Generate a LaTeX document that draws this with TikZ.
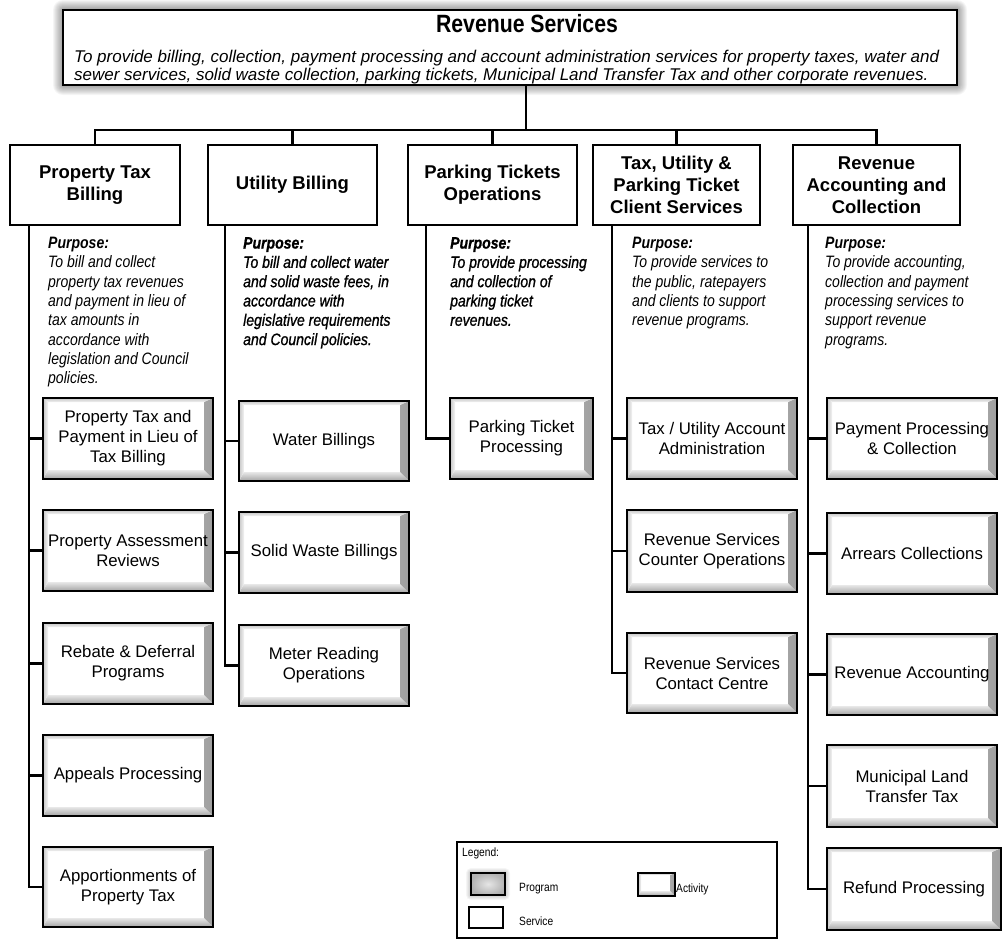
\documentclass[tikz,border=0pt]{standalone}
\usepackage{fontspec}
\setmainfont{Liberation Sans}
\newfontfamily\narrowfont{Liberation Sans}[FakeStretch=0.85]
\newfontfamily\narrowheavy{Liberation Sans}[FakeStretch=0.85,FakeBold=1]
\usetikzlibrary{calc}
\newcommand\drawbevel[3]{%
 \shade[left color=gray!12,right color=gray!75] let \p1=(path picture bounding box.north west), \p2=(path picture bounding box.south east) in (\x2,\y1) -- (\x2,\y2) -- (\x2-#1,\y2+#1) -- (\x2-#1,\y1-#2) -- cycle;
 \shade[top color=gray!18,bottom color=gray!72] let \p1=(path picture bounding box.north west), \p2=(path picture bounding box.south east) in (\x1,\y2) -- (\x2,\y2) -- (\x2-#1,\y2+#1) -- (\x1+#3,\y2+#1) -- cycle;
 \shade[top color=gray!45,bottom color=gray!10] let \p1=(path picture bounding box.north west), \p2=(path picture bounding box.south east) in (\x1,\y1) -- (\x2,\y1) -- (\x2-#1,\y1-#2) -- (\x1+#3,\y1-#2) -- cycle;
 \shade[left color=gray!45,right color=gray!8] let \p1=(path picture bounding box.north west), \p2=(path picture bounding box.south east) in (\x1,\y1) -- (\x1+#3,\y1-#2) -- (\x1+#3,\y2+#1) -- (\x1,\y2) -- cycle;
}
\newcommand\myglow[5]{\foreach \i in {1,...,#5}{\fill[black,opacity=0.04,rounded corners=\i pt] (#1-\i,#2-\i) rectangle (#3+\i,#4+\i);}}
\begin{document}
\begin{tikzpicture}[x=1pt,y=-1pt,
 conn/.style={line width=2.4pt,black},
 prog/.style={draw=black,line width=1.8pt,fill=white,inner sep=0pt},
 svc/.style={draw=black,line width=2.6pt,fill=white,inner sep=0pt,align=center,font={\fontsize{18.5}{22}\selectfont\bfseries}},
 act/.style={draw=black,line width=1.6pt,fill=white,inner sep=0pt,align=center,font={\fontsize{16.8}{20}\selectfont},path picture={\drawbevel{9pt}{4pt}{5pt}}},
 actsmall/.style={draw=black,line width=1.4pt,fill=white,inner sep=0pt,path picture={\drawbevel{5pt}{2pt}{3pt}}},
 purp/.style={anchor=north west,inner sep=0pt,align=left,font={\narrowfont\fontsize{16.5}{19.3}\selectfont\itshape}},
 purph/.style={anchor=north west,inner sep=0pt,align=left,font={\narrowheavy\fontsize{16.5}{19.3}\selectfont\itshape}},
 legtext/.style={inner sep=0pt,anchor=west,font={\narrowfont\fontsize{12}{14}\selectfont}}]
\useasboundingbox (0,0) rectangle (1005,943);
\fill[white] (0,0) rectangle (1005,943);

% top program box
\myglow{63}{10}{957}{85}{10}
\node[prog,minimum width=894pt,minimum height=75pt] (top) at (510,47.5) {};
\node[inner sep=0pt,font={\narrowfont\fontsize{25}{27}\selectfont\bfseries}] (ttl) at (527,24) {Revenue Services};
\node[anchor=north west,inner sep=0pt,align=left,font={\fontsize{17}{17.5}\selectfont\itshape}] (desc) at (74,50)
 {To provide billing, collection, payment processing and account administration services for property taxes, water and\\
  sewer services, solid waste collection, parking tickets, Municipal Land Transfer Tax and other corporate revenues.};

% services
\node[svc,minimum width=170pt,minimum height=80pt] (h1) at (95,185) {Property Tax\\Billing};
\node[svc,minimum width=169pt,minimum height=80pt] (h2) at (292.5,185) {Utility Billing};
\node[svc,minimum width=169pt,minimum height=80pt] (h3) at (492.5,185) {Parking Tickets\\Operations};
\node[svc,minimum width=167pt,minimum height=80pt] (h4) at (676.5,185) {Tax, Utility \&\\Parking Ticket\\Client Services};
\node[svc,minimum width=167pt,minimum height=80pt] (h5) at (876.5,185) {Revenue\\Accounting and\\Collection};

% top connectors
\coordinate (stem) at (526,130);
\draw[conn] (stem) -- (stem |- top.south);
\draw[conn] (h1.north) -- (h1.north |- stem) -- (h5.north |- stem) -- (h5.north);
\foreach \h in {h2,h3,h4} \draw[conn] (\h.north) -- (\h.north |- stem);

% purposes
\node[purp] (p1) at (48,237) {\textbf{Purpose:}\\To bill and collect\\property tax revenues\\and payment in lieu of\\tax amounts in\\accordance with\\legislation and Council\\policies.};
\node[purph] (p2) at (243,237) {\textbf{Purpose:}\\To bill and collect water\\and solid waste fees, in\\accordance with\\legislative requirements\\and Council policies.};
\node[purph] (p3) at (450,237) {\textbf{Purpose:}\\To provide processing\\and collection of\\parking ticket\\revenues.};
\node[purp] (p4) at (632,237) {\textbf{Purpose:}\\To provide services to\\the public, ratepayers\\and clients to support\\revenue programs.};
\node[purp] (p5) at (825,237) {\textbf{Purpose:}\\To provide accounting,\\collection and payment\\processing services to\\support revenue\\programs.};

% activities column 1
\node[act,minimum width=170pt,minimum height=81pt] (a11) at (128,438.5) {Property Tax and\\Payment in Lieu of\\Tax Billing};
\node[act,minimum width=170pt,minimum height=81pt] (a12) at (128,550.5) {Property Assessment\\Reviews};
\node[act,minimum width=170pt,minimum height=81pt] (a13) at (128,663.5) {Rebate \& Deferral\\Programs};
\node[act,minimum width=170pt,minimum height=81pt] (a14) at (128,775.5) {Appeals Processing};
\node[act,minimum width=170pt,minimum height=80pt] (a15) at (128,887) {Apportionments of\\Property Tax};
% column 2
\node[act,minimum width=170pt,minimum height=80pt] (a21) at (324,441) {Water Billings};
\node[act,minimum width=170pt,minimum height=81pt] (a22) at (324,552.5) {Solid Waste Billings};
\node[act,minimum width=170pt,minimum height=81pt] (a23) at (324,665.5) {Meter Reading\\Operations};
% column 3
\node[act,minimum width=143pt,minimum height=81pt] (a31) at (521.5,438.5) {Parking Ticket\\Processing};
% column 4
\node[act,minimum width=170pt,minimum height=81pt] (a41) at (712,438.5) {Tax / Utility Account\\Administration};
\node[act,minimum width=170pt,minimum height=82pt] (a42) at (712,551) {Revenue Services\\Counter Operations};
\node[act,minimum width=170pt,minimum height=80pt] (a43) at (712,673) {Revenue Services\\Contact Centre};
% column 5
\node[act,minimum width=170pt,minimum height=81pt] (a51) at (912,438.5) {Payment Processing\\\& Collection};
\node[act,minimum width=170pt,minimum height=81pt] (a52) at (912,553.5) {Arrears Collections};
\node[act,minimum width=170pt,minimum height=81pt] (a53) at (912,674.5) {Revenue Accounting};
\node[act,minimum width=170pt,minimum height=82pt] (a54) at (912,786) {Municipal Land\\Transfer Tax};
\node[act,minimum width=174pt,minimum height=82pt] (a55) at (914,889) {Refund Processing};

% trunks
\coordinate (t1) at (29,0);
\coordinate (t2) at (225,0);
\coordinate (t3) at (426,0);
\coordinate (t4) at (612,0);
\coordinate (t5) at (808,0);
\draw[conn] (h1.south -| t1) |- (a15.west);
\foreach \a in {a11,a12,a13,a14} \draw[conn] (\a.west -| t1) -- (\a.west);
\draw[conn] (h2.south -| t2) |- (a23.west);
\foreach \a in {a21,a22} \draw[conn] (\a.west -| t2) -- (\a.west);
\draw[conn] (h3.south -| t3) |- (a31.west);
\draw[conn] (h4.south -| t4) |- (a43.west);
\foreach \a in {a41,a42} \draw[conn] (\a.west -| t4) -- (\a.west);
\draw[conn] (h5.south -| t5) |- (a55.west);
\foreach \a in {a51,a52,a53,a54} \draw[conn] (\a.west -| t5) -- (\a.west);

% legend
\node[draw=black,line width=2.4pt,fill=white,minimum width=320pt,minimum height=96pt,inner sep=0pt] (legend) at (617,890) {};
\node[legtext] (legT) at (462,853) {Legend:};
\myglow{471}{873}{505}{895}{5}
\node[draw=black,line width=1.4pt,inner sep=0pt,minimum width=34pt,minimum height=22pt,inner color=gray!20,outer color=gray!60] (legP) at (488,884) {};
\node[legtext] (legPt) at (519,889) {Program};
\node[actsmall,minimum width=37pt,minimum height=23pt] (legA) at (656.5,884.5) {};
\node[legtext] (legAt) at (676,889) {Activity};
\node[draw=black,line width=2.6pt,fill=white,inner sep=0pt,minimum width=34pt,minimum height=21pt] (legS) at (486,917.5) {};
\node[legtext] (legSt) at (519,921) {Service};
\end{tikzpicture}
\end{document}
